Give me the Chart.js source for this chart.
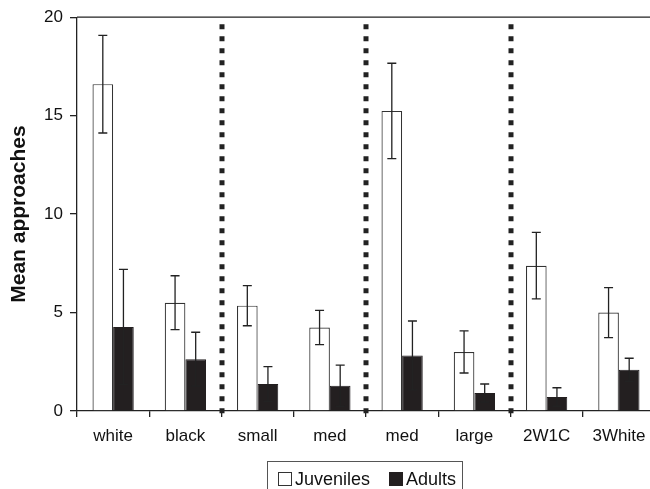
<!DOCTYPE html>
<html>
<head>
<meta charset="utf-8">
<script src="https://cdn.jsdelivr.net/npm/chart.js@4.4.1/dist/chart.umd.min.js"></script>
<style>
  html, body { margin: 0; padding: 0; background: #fff; overflow: hidden; }
  #wrap { position: relative; width: 650px; height: 489px; overflow: hidden; }
  #c { position: absolute; left: 0; top: 0; }
  #legend {
    position: absolute; left: 267px; top: 461px; width: 194px; height: 40px;
    border: 1px solid #555; box-sizing: content-box;
    font-family: "Liberation Sans", Arial, sans-serif; font-size: 18px; color: #111;
  }
  .item { position: absolute; top: 8px; line-height: 18px; white-space: nowrap; }
  .sw { display: inline-block; width: 14px; height: 14px; box-sizing: border-box; vertical-align: -1px; margin-right: 3px; }
</style>
</head>
<body>
<div id="wrap">
  <canvas id="c" width="660" height="489"></canvas>
  <div id="legend">
    <div class="item" style="left:10px"><span class="sw" style="border:1px solid #333;background:#fff"></span>Juveniles</div>
    <div class="item" style="left:121px"><span class="sw" style="background:#231f20"></span>Adults</div>
  </div>
</div>
<script>
const categories = ['white', 'black', 'small', 'med', 'med', 'large', '2W1C', '3White'];
const juveniles = [16.6, 5.5, 5.35, 4.24, 15.24, 3.0, 7.38, 5.0];
const juvenilesErr = [2.48, 1.37, 1.02, 0.87, 2.42, 1.07, 1.69, 1.27];
const adults = [4.27, 2.63, 1.37, 1.28, 2.82, 0.91, 0.71, 2.09];
const adultsErr = [2.92, 1.37, 0.88, 1.05, 1.75, 0.46, 0.47, 0.59];
const yTicks = [0, 5, 10, 15, 20];
const separatorsAfter = [1, 3, 5];

const FONT = '"Liberation Sans", Arial, sans-serif';

const extras = {
  id: 'extras',
  afterDatasetsDraw(chart) {
    const ctx = chart.ctx;
    const area = chart.chartArea;
    const xs = chart.scales.x, ys = chart.scales.y;
    ctx.save();
    // error bars
    const errs = [juvenilesErr, adultsErr];
    chart.data.datasets.forEach((ds, di) => {
      const meta = chart.getDatasetMeta(di);
      meta.data.forEach((bar, i) => {
        const v = ds.data[i], e = errs[di][i];
        const yTop = ys.getPixelForValue(v + e);
        const yBot = ys.getPixelForValue(v - e);
        ctx.strokeStyle = '#222';
        ctx.lineWidth = 1.3;
        ctx.beginPath();
        ctx.moveTo(bar.x, yTop); ctx.lineTo(bar.x, yBot);
        ctx.moveTo(bar.x - 4.5, yTop); ctx.lineTo(bar.x + 4.5, yTop);
        ctx.moveTo(bar.x - 4.5, yBot); ctx.lineTo(bar.x + 4.5, yBot);
        ctx.stroke();
      });
    });
    // dotted separators
    ctx.strokeStyle = '#222';
    ctx.lineWidth = 5;
    ctx.setLineDash([5, 7]);
    ctx.lineCap = 'butt';
    separatorsAfter.forEach(i => {
      const x = Math.round((xs.getPixelForValue(i) + xs.getPixelForValue(i + 1)) / 2);
      ctx.beginPath();
      ctx.moveTo(x, area.top + 7);
      ctx.lineTo(x, area.bottom + 3);
      ctx.stroke();
    });
    ctx.setLineDash([]);
    // top frame line
    ctx.strokeStyle = '#222';
    ctx.lineWidth = 1.3;
    ctx.beginPath();
    ctx.moveTo(area.left, area.top);
    ctx.lineTo(area.right + 10, area.top);
    ctx.stroke();
    ctx.restore();
  }
};

new Chart(document.getElementById('c'), {
  type: 'bar',
  data: {
    labels: categories,
    datasets: [
      { label: 'Juveniles', data: juveniles, backgroundColor: '#ffffff', borderColor: '#333', borderWidth: 1.2, categoryPercentage: 0.571, barPercentage: 1.0 },
      { label: 'Adults', data: adults, backgroundColor: '#231f20', borderColor: '#231f20', borderWidth: 1, categoryPercentage: 0.571, barPercentage: 1.0 }
    ]
  },
  options: {
    responsive: false,
    animation: false,
    layout: { padding: { left: 0, right: 5, top: 16, bottom: 38 } },
    plugins: { legend: { display: false }, tooltip: { enabled: false } },
    scales: {
      x: {
        offset: true,
        grid: { display: true, drawOnChartArea: false, offset: true, tickLength: 6, color: '#222', lineWidth: 1.3 },
        border: { display: true, color: '#222', width: 1.3 },
        ticks: { color: '#111', font: { family: FONT, size: 17 }, padding: 9, maxRotation: 0, autoSkip: false },
        afterFit(s) { s.height = 40; }
      },
      y: {
        min: 0, max: 20,
        afterBuildTicks(s) { s.ticks = yTicks.map(v => ({ value: v })); },
        grid: { display: true, drawOnChartArea: false, tickLength: 7, color: '#222', lineWidth: 1.3 },
        border: { display: true, color: '#222', width: 1.3 },
        ticks: { color: '#111', font: { family: FONT, size: 17 }, padding: 7 },
        title: { display: true, text: 'Mean approaches', color: '#111', font: { family: FONT, size: 21, weight: 'bold' }, padding: { top: 7, bottom: 0 } },
        afterFit(s) { s.width = 77; }
      }
    }
  },
  plugins: [extras]
});
</script>
</body>
</html>
